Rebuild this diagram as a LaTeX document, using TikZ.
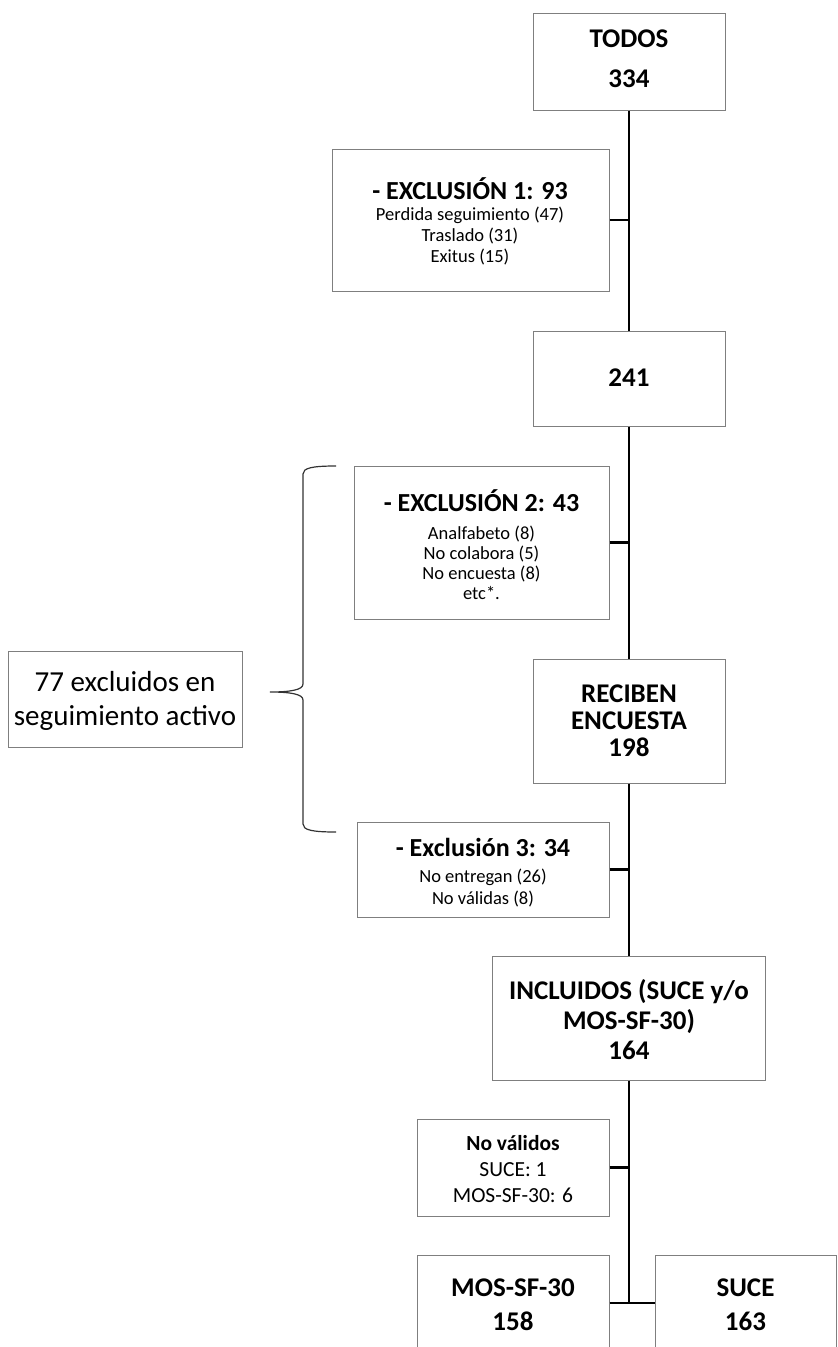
\documentclass[tikz,border=0pt]{standalone}
\usepackage{fontspec}
\setmainfont{Carlito}
\definecolor{boxgray}{RGB}{127,127,127}
\begin{document}
\begin{tikzpicture}[x=1pt,y=-1pt,
  box/.style={draw=boxgray, line width=1pt, fill=white, inner sep=0pt},
  spine/.style={line width=2.4pt, black},
  maintxt/.style={align=center, inner sep=0pt, font=\fontsize{27}{#1}\selectfont\bfseries},
  titletxt/.style={align=center, inner sep=0pt, font=\fontsize{26}{30}\selectfont\bfseries},
  subtxt/.style={align=center, inner sep=0pt, font=\fontsize{18.5}{#1}\selectfont},
  nvtxt/.style={align=center, inner sep=0pt, font=\fontsize{21.5}{26}\selectfont},
  lefttxt/.style={align=center, inner sep=0pt, font=\fontsize{29}{34}\selectfont},
  bracestyle/.style={line width=1.2pt, black!80}
]
\useasboundingbox (0,0) rectangle (838,1347);
\clip (0,0) rectangle (838,1347);

% boxes
\node[box, minimum width=192pt, minimum height=97pt] (todos) at (629,61.5) {};
\node[maintxt=40] (todosT) at (629,59) {TODOS\\334};

\node[box, minimum width=277pt, minimum height=142pt] (exc1) at (470.5,220) {};
\node[titletxt] (exc1T) at (470,189) {- EXCLUSIÓN 1: 93};
\node[subtxt=21] (exc1S) at (470,236) {Perdida seguimiento (47)\\Traslado (31)\\Exitus (15)};

\node[box, minimum width=192pt, minimum height=95pt] (n241) at (629,378.5) {};
\node[maintxt=30] (n241T) at (629,378) {241};

\node[box, minimum width=255pt, minimum height=153pt] (exc2) at (481.5,542.5) {};
\node[titletxt] (exc2T) at (481.5,501) {- EXCLUSIÓN 2: 43};
\node[subtxt=20] (exc2S) at (481.5,562.5) {Analfabeto (8)\\No colabora (5)\\No encuesta (8)\\etc*.};

\node[box, minimum width=192pt, minimum height=124pt] (recib) at (629,721) {};
\node[maintxt=27] (recibT) at (629,720.5) {RECIBEN\\ENCUESTA\\198};

\node[box, minimum width=252pt, minimum height=95pt] (exc3) at (483,869.5) {};
\node[titletxt] (exc3T) at (483,847) {- Exclusión 3: 34};
\node[subtxt=22] (exc3S) at (483,888) {No entregan (26)\\No válidas (8)};

\node[box, minimum width=273pt, minimum height=124pt] (incl) at (629,1018) {};
\node[maintxt=30] (inclT) at (629,1020) {INCLUIDOS (SUCE y/o\\MOS-SF-30)\\164};

\node[box, minimum width=192pt, minimum height=97pt] (noval) at (513,1167.5) {};
\node[nvtxt] (novalT) at (513,1169) {\textbf{No válidos}\\SUCE: 1\\MOS-SF-30: 6};

\node[box, minimum width=192pt, minimum height=96pt] (mos) at (513,1303) {};
\node[maintxt=34] (mosT) at (513,1305) {MOS-SF-30\\158};

\node[box, minimum width=181pt, minimum height=96pt] (suce) at (745.5,1303) {};
\node[maintxt=34] (suceT) at (745.5,1305) {SUCE\\163};

\node[box, minimum width=234pt, minimum height=96pt] (left) at (125,699) {};
\node[lefttxt] (leftT) at (125,701) {77 excluidos en\\seguimiento activo};

% spine and branches
\coordinate (fork) at (629,1303);
\draw[spine] (todos.south) -- (n241.north);
\draw[spine] (exc1.east) -- (exc1.east -| todos.south);
\draw[spine] (n241.south) -- (recib.north);
\draw[spine] (exc2.east) -- (exc2.east -| n241.south);
\draw[spine] (recib.south) -- (incl.north);
\draw[spine] (exc3.east) -- (exc3.east -| recib.south);
\draw[spine] (incl.south) -- (fork);
\draw[spine] (noval.east) -- (noval.east -| fork);
\draw[spine] (mos.east) -- (suce.west);

% brace
\draw[bracestyle] (336,466) .. controls (312,466) and (303,468) .. (303,474)
  -- (303,684) .. controls (303,690) and (290,692) .. (270,692)
  .. controls (290,692) and (303,694) .. (303,700)
  -- (303,824) .. controls (303,830) and (312,832) .. (336,832);
\end{tikzpicture}
\end{document}
